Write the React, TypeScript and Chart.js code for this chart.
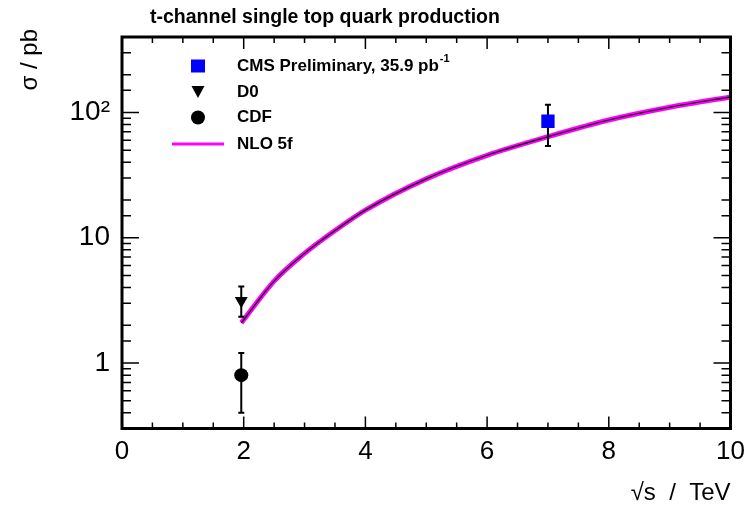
import { useEffect, useRef } from 'react';
import { Chart, registerables } from 'chart.js';

Chart.register(...registerables);

// ---- data ----
const nloEnergy = [1.96, 2.5, 3, 3.5, 4, 5, 6, 7, 8, 9, 10];
const nloXsec = [2.09, 4.5, 7.5, 11.4, 16.6, 29.5, 45.5, 64, 87, 110, 133];

const cmsEnergy = [7.0];
const cmsXsec = [85];
const cmsUp = [115];
const cmsDown = [54];

const d0Energy = [1.96];
const d0Xsec = [3.14];
const d0Up = [4.08];
const d0Down = [2.34];

const cdfEnergy = [1.96];
const cdfXsec = [0.8];
const cdfUp = [1.2];
const cdfDown = [0.4];

const xTickValues = [0, 2, 4, 6, 8, 10];
const yMajorValues = [1, 10, 100];
const yMajorLabels = ['1', '10', '10²'];

const legendLabels = ['CMS Preliminary, 35.9 pb⁻¹', 'D0', 'CDF', 'NLO 5f'];
const chartTitle = 't-channel single top quark production';
const xTitle = '√s  /  TeV';
const yTitle = 'σ / pb';

const FONT = '"Liberation Sans", Arial, Helvetica, sans-serif';
const MAGENTA = '#ff00ff';
const BLUE = '#0000ff';

const toPts = (xs: number[], ys: number[]) => xs.map((x, i) => ({ x, y: ys[i] }));

const rootPlugin = {
  id: 'rootStyle',
  afterDatasetDraw(chart: any, args: any) {
    if (args.index !== 3) return;
    const { ctx } = chart;
    const xs = chart.scales.x;
    const ys = chart.scales.y;
    const bars: [number[], number[], number[]][] = [
      [cmsEnergy, cmsUp, cmsDown],
      [d0Energy, d0Up, d0Down],
      [cdfEnergy, cdfUp, cdfDown],
    ];
    ctx.save();
    ctx.strokeStyle = '#000';
    ctx.lineWidth = 2;
    for (const [ex, up, dn] of bars) {
      for (let i = 0; i < ex.length; i++) {
        const px = xs.getPixelForValue(ex[i]);
        const pu = ys.getPixelForValue(up[i]);
        const pd = ys.getPixelForValue(dn[i]);
        ctx.beginPath();
        ctx.moveTo(px, pu);
        ctx.lineTo(px, pd);
        ctx.moveTo(px - 3, pu);
        ctx.lineTo(px + 3, pu);
        ctx.moveTo(px - 3, pd);
        ctx.lineTo(px + 3, pd);
        ctx.stroke();
      }
    }
    ctx.restore();
  },
  afterDraw(chart: any) {
    const { ctx, chartArea: a } = chart;
    const xs = chart.scales.x;
    const ys = chart.scales.y;
    ctx.save();
    ctx.strokeStyle = '#000';

    // ticks inside the frame
    ctx.lineWidth = 1.5;
    ctx.beginPath();
    for (let v = xs.min; v <= xs.max + 1e-9; v += 0.5) {
      const px = xs.getPixelForValue(v);
      const major = xTickValues.some((t) => Math.abs(t - v) < 1e-6);
      const len = major ? 12 : 6;
      ctx.moveTo(px, a.bottom);
      ctx.lineTo(px, a.bottom - len);
      ctx.moveTo(px, a.top);
      ctx.lineTo(px, a.top + len);
    }
    for (const t of ys.ticks) {
      const v = t.value;
      const py = ys.getPixelForValue(v);
      const major = yMajorValues.some((m) => Math.abs(m - v) / m < 1e-6);
      const len = major ? 17 : 9;
      ctx.moveTo(a.left, py);
      ctx.lineTo(a.left + len, py);
      ctx.moveTo(a.right, py);
      ctx.lineTo(a.right - len, py);
    }
    ctx.stroke();

    // frame
    ctx.lineWidth = 3;
    ctx.strokeRect(a.left, a.top, a.right - a.left, a.bottom - a.top);

    // title
    ctx.fillStyle = '#000';
    ctx.font = `bold 19.5px ${FONT}`;
    ctx.textAlign = 'left';
    ctx.textBaseline = 'alphabetic';
    ctx.fillText(chartTitle, 150, 22.7);

    // y axis title (rotated, top-aligned as in ROOT)
    ctx.save();
    ctx.translate(30, 29);
    ctx.rotate(-Math.PI / 2);
    ctx.font = `24px ${FONT}`;
    ctx.textAlign = 'right';
    ctx.textBaseline = 'middle';
    ctx.fillText(yTitle, 0, 0);
    ctx.restore();

    // legend
    const rowY = [66, 92, 117.5, 144];
    const markX = 198;
    const textX = 237;
    const styles = ['rect', 'triangle', 'circle', 'line'];
    ctx.textAlign = 'left';
    for (let i = 0; i < legendLabels.length; i++) {
      const y = rowY[i];
      const st = styles[i];
      ctx.beginPath();
      if (st === 'rect') {
        ctx.fillStyle = BLUE;
        ctx.fillRect(markX - 7, y - 6.5, 14, 13);
      } else if (st === 'triangle') {
        ctx.fillStyle = '#000';
        ctx.moveTo(markX - 6.5, y - 6);
        ctx.lineTo(markX + 6.5, y - 6);
        ctx.lineTo(markX, y + 6);
        ctx.closePath();
        ctx.fill();
      } else if (st === 'circle') {
        ctx.fillStyle = '#000';
        ctx.arc(markX, y, 7, 0, Math.PI * 2);
        ctx.fill();
      } else {
        ctx.strokeStyle = MAGENTA;
        ctx.lineWidth = 3;
        ctx.moveTo(172, y);
        ctx.lineTo(224, y);
        ctx.stroke();
      }
      ctx.fillStyle = '#000';
      ctx.font = `bold 17px ${FONT}`;
      ctx.textBaseline = 'middle';
      const label = legendLabels[i];
      const supIdx = label.indexOf('⁻¹');
      if (supIdx >= 0) {
        const main = label.slice(0, supIdx);
        ctx.fillText(main, textX, y);
        const w = ctx.measureText(main).width;
        ctx.font = `bold 11px ${FONT}`;
        ctx.fillText('-1', textX + w + 1, y - 7);
      } else {
        ctx.fillText(label, textX, y);
      }
    }
    ctx.restore();
  },
};

export default function App() {
  const ref = useRef<HTMLCanvasElement>(null);
  useEffect(() => {
    document.body.style.margin = '0';
    const canvas = ref.current!;
    const chart = new Chart(canvas, {
      type: 'scatter',
      data: {
        datasets: [
          {
            label: legendLabels[0],
            data: toPts(cmsEnergy, cmsXsec),
            pointStyle: 'rect',
            pointRadius: 9.4,
            pointBackgroundColor: BLUE,
            pointBorderColor: BLUE,
            pointBorderWidth: 0,
          },
          {
            label: legendLabels[1],
            data: toPts(d0Energy, d0Xsec),
            pointStyle: 'triangle',
            pointRotation: 180,
            pointRadius: 7.5,
            pointBackgroundColor: '#000',
            pointBorderColor: '#000',
            pointBorderWidth: 0,
          },
          {
            label: legendLabels[2],
            data: toPts(cdfEnergy, cdfXsec),
            pointStyle: 'circle',
            pointRadius: 7,
            pointBackgroundColor: '#000',
            pointBorderColor: '#000',
            pointBorderWidth: 0,
          },
          {
            label: 'NLO 5f central',
            data: toPts(nloEnergy, nloXsec),
            showLine: true,
            borderColor: '#000',
            borderWidth: 1.2,
            pointRadius: 0,
            cubicInterpolationMode: 'monotone',
          },
          {
            label: legendLabels[3],
            data: toPts(nloEnergy, nloXsec),
            showLine: true,
            borderColor: MAGENTA,
            borderWidth: 5,
            pointRadius: 0,
            cubicInterpolationMode: 'monotone',
          },
        ] as any,
      },
      options: {
        responsive: false,
        animation: false,
        devicePixelRatio: 1,
        layout: { padding: { top: 37, right: 23.5, left: 0, bottom: 0 } },
        plugins: {
          legend: { display: false },
          tooltip: { enabled: false },
          title: { display: false },
        },
        scales: {
          x: {
            type: 'linear',
            min: 0,
            max: 10,
            grid: { display: false, drawTicks: false },
            border: { display: false },
            afterBuildTicks: (scale: any) => {
              scale.ticks = xTickValues.map((v) => ({ value: v }));
            },
            afterFit: (scale: any) => {
              scale.height = 507 - 428.5;
            },
            ticks: {
              color: '#000',
              font: { family: FONT, size: 26 },
              padding: 8,
              maxRotation: 0,
              autoSkip: false,
              callback: (v: any) => String(v),
            },
            title: {
              display: true,
              text: xTitle,
              align: 'end',
              color: '#000',
              font: { family: FONT, size: 24 },
              padding: { top: 0, bottom: -1 },
            },
          },
          y: {
            type: 'logarithmic',
            min: 0.3,
            max: 400,
            grid: { display: false, drawTicks: false },
            border: { display: false },
            afterFit: (scale: any) => {
              scale.width = 122;
            },
            ticks: {
              color: '#000',
              font: { family: FONT, size: 28 },
              padding: 12,
              autoSkip: false,
              callback: (v: any) => {
                const i = yMajorValues.findIndex((m) => Math.abs(m - Number(v)) / m < 1e-6);
                return i >= 0 ? yMajorLabels[i] : '';
              },
            },
          },
        },
      } as any,
      plugins: [rootPlugin],
    });
    return () => chart.destroy();
  }, []);
  return (
    <div style={{ width: 754, height: 507 }}>
      <canvas ref={ref} width={754} height={507} style={{ display: 'block' }} />
    </div>
  );
}
